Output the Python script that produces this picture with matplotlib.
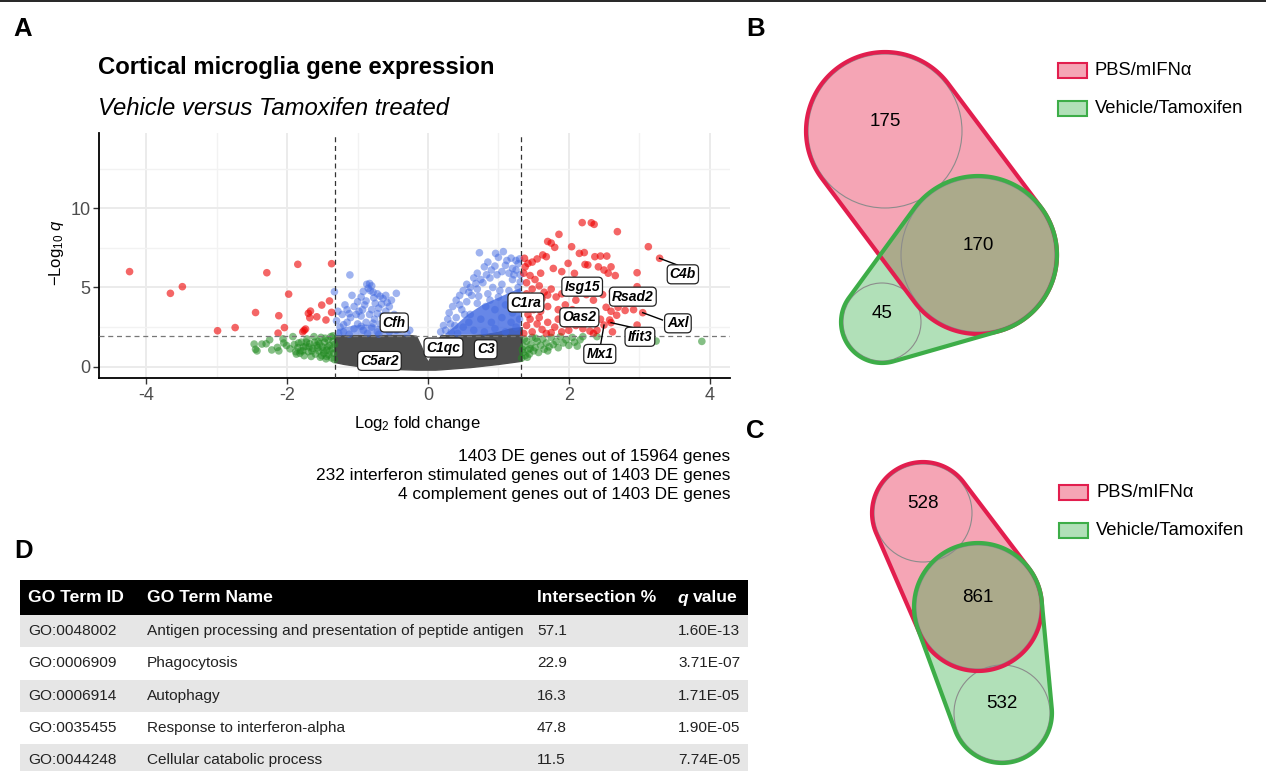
import numpy as np
import matplotlib
matplotlib.use("Agg")
import matplotlib.pyplot as plt
from matplotlib import font_manager
from matplotlib.patches import Polygon, Circle, Rectangle

W, H = 1266, 771

# ---------------- volcano data: (log2 fold change, -log10 q) ----------------
red_pts = [
    # down in tamoxifen
    (-4.24, 6.00), (-3.66, 4.63), (-3.49, 5.05), (-2.99, 2.27), (-2.74, 2.47),
    (-2.45, 3.42), (-2.29, 5.93), (-2.12, 3.22), (-2.04, 2.47), (-2.13, 2.12),
    (-1.98, 4.58), (-1.85, 6.46), (-1.78, 2.20), (-1.76, 2.30), (-1.74, 2.38),
    (-1.70, 3.37), (-1.67, 3.51), (-1.68, 3.09), (-1.58, 3.15), (-1.51, 3.89),
    (-1.45, 2.95), (-1.40, 4.15), (-1.37, 6.50), (-1.37, 3.43),
    # up, upper part
    (2.19, 9.09), (2.32, 9.08), (2.36, 8.98), (2.69, 8.52), (3.13, 7.57),
    (3.29, 6.84), (1.86, 8.35), (1.70, 7.90), (1.75, 7.80), (2.04, 7.57),
    (1.80, 7.53), (1.63, 7.05), (1.68, 6.94), (2.15, 7.15), (2.22, 7.20),
    (2.37, 6.94), (2.45, 6.98), (2.54, 6.98), (1.37, 6.84), (1.42, 6.52),
    (1.38, 6.30), (1.48, 6.60), (1.55, 6.80), (1.99, 6.52), (2.27, 6.42),
    (2.42, 6.30), (2.50, 6.10), (2.60, 6.30), (2.56, 5.90), (2.66, 5.75),
    (2.97, 5.93), (2.08, 5.89), (2.23, 6.45), (1.90, 6.00), (1.78, 6.20),
    (1.60, 5.90), (1.45, 5.75), (1.52, 5.50), (1.40, 5.30), (1.36, 5.90),
    # up, middle part
    (2.97, 5.05), (2.36, 5.30), (2.48, 4.55), (2.62, 4.75), (2.75, 4.20),
    (2.85, 4.00), (2.70, 3.75), (2.80, 3.55), (2.92, 3.60), (2.60, 3.50),
    (2.53, 3.75), (2.35, 4.20), (2.25, 4.55), (1.70, 4.52), (1.75, 4.90),
    (1.82, 4.40), (1.65, 4.70), (1.58, 5.10), (1.48, 4.90), (1.40, 4.60),
    (1.45, 4.20), (1.55, 4.00), (1.62, 4.30), (1.90, 4.60), (2.00, 5.20),
    (2.10, 4.20), (1.95, 3.90), (1.85, 3.60), (1.70, 3.80), (1.50, 3.60),
    (1.38, 3.90), (1.42, 3.30), (1.60, 3.50), (2.05, 3.60),
    # up, lower part
    (3.05, 3.41), (2.97, 2.63), (2.50, 2.63), (2.60, 2.78), (2.58, 2.95),
    (2.45, 3.00), (2.40, 2.30), (2.30, 2.25), (2.20, 2.40), (2.10, 2.60),
    (2.00, 2.30), (1.90, 2.20), (1.80, 2.50), (1.75, 2.15), (1.70, 2.80),
    (1.62, 2.35), (1.55, 2.70), (1.48, 2.20), (1.40, 2.60), (1.36, 2.10),
    (1.45, 3.00), (1.58, 3.10), (1.68, 2.10), (1.85, 3.00), (2.15, 2.90),
    (2.28, 3.20), (1.95, 2.70), (2.35, 2.10), (2.62, 2.20), (2.90, 2.10),
    (2.68, 3.25),
]

green_pts = [
    (-2.47, 1.43), (-2.45, 1.10), (-2.43, 1.00), (-2.36, 1.43), (-2.30, 1.45),
    (-2.25, 1.70), (-2.22, 1.06), (-2.14, 1.22), (-2.12, 1.00), (-2.06, 1.76),
    (-2.01, 1.34), (-1.96, 1.13), (-2.05, 1.50), (-1.92, 1.90), (-1.90, 1.40),
    (-1.88, 0.95), (-1.85, 1.20), (-1.82, 0.85), (-1.80, 1.55), (-1.78, 1.00),
    (-1.76, 0.70), (-1.74, 1.30), (-1.72, 1.75), (-1.70, 0.95), (-1.68, 1.45),
    (-1.66, 0.65), (-1.64, 1.15), (-1.62, 1.90), (-1.60, 0.80), (-1.58, 1.35),
    (-1.56, 1.60), (-1.55, 1.00), (-1.53, 0.60), (-1.52, 1.85), (-1.50, 1.25),
    (-1.48, 0.85), (-1.47, 1.55), (-1.45, 0.50), (-1.44, 1.05), (-1.42, 1.70),
    (-1.41, 0.75), (-1.40, 1.35), (-1.38, 1.90), (-1.37, 0.55), (-1.36, 1.15),
    (-1.35, 1.60), (-1.34, 0.85), (-1.33, 1.40), (-1.33, 0.45), (-1.35, 1.95),
    (-1.39, 1.00), (-1.43, 1.25), (-1.46, 1.80), (-1.51, 0.70), (-1.57, 1.20),
    (-1.61, 1.55), (-1.65, 1.00), (-1.69, 1.25), (-1.73, 1.55), (-1.77, 1.25),
    (-1.81, 1.00), (-1.84, 1.50), (-1.87, 0.80), (-1.54, 1.45), (-1.49, 1.05),
    (-1.44, 0.65),
    (1.33, 0.55), (1.35, 0.90), (1.36, 1.30), (1.38, 0.70), (1.40, 1.60),
    (1.42, 1.05), (1.44, 0.80), (1.46, 1.40), (1.48, 1.85), (1.50, 1.00),
    (1.52, 1.20), (1.55, 1.60), (1.57, 0.90), (1.60, 1.35), (1.63, 1.75),
    (1.65, 1.10), (1.68, 1.50), (1.72, 1.25), (1.75, 1.85), (1.78, 1.40),
    (1.82, 1.60), (1.85, 1.20), (1.88, 1.90), (1.92, 1.50), (1.96, 1.70),
    (2.00, 1.35), (2.05, 1.85), (2.08, 1.55), (2.12, 1.30), (2.16, 1.70),
    (2.20, 1.90), (1.34, 1.10), (1.37, 1.75), (1.41, 0.60), (1.45, 1.15),
    (1.53, 1.80), (1.70, 1.00), (2.40, 1.90), (3.10, 1.80), (3.24, 1.62),
    (3.89, 1.60),
]

blue_pts = [
    (-1.11, 5.79), (-1.33, 4.73), (-0.87, 5.20), (-0.83, 5.25), (-0.80, 5.10),
    (-0.85, 4.95), (-0.82, 4.80), (-0.78, 4.70), (-0.72, 4.60), (-0.68, 4.45),
    (-0.64, 4.30), (-0.60, 4.50), (-0.45, 4.63), (-0.52, 4.20), (-0.95, 4.40),
    (-1.00, 4.10), (-1.05, 3.80), (-1.15, 3.60), (-1.22, 3.30), (-1.28, 3.50),
    (-0.90, 3.90), (-0.75, 4.00), (-0.70, 3.70), (-0.60, 3.50), (-0.55, 3.80),
    (-0.48, 3.30), (-0.40, 3.00), (-0.35, 2.60), (-0.26, 2.30), (-0.30, 2.10),
    (-1.30, 2.90), (-1.25, 2.50), (-1.20, 2.20), (-1.15, 2.80), (-1.10, 3.10),
    (-1.05, 2.40), (-1.00, 2.70), (-0.95, 3.20), (-0.92, 2.30), (-0.88, 2.80),
    (-0.83, 3.30), (-0.80, 2.50), (-0.76, 3.00), (-0.72, 2.20), (-0.68, 2.70),
    (-0.65, 3.20), (-0.62, 2.40), (-0.58, 2.90), (-0.55, 2.20), (-0.50, 2.60),
    (-0.45, 2.30), (-0.42, 2.70), (-1.18, 3.90), (-1.08, 4.50), (-0.98, 3.50),
    (-1.27, 2.10), (-0.86, 2.10), (-0.70, 2.05), (-1.12, 2.05),
    (-0.92, 4.75), (-0.77, 4.35), (-0.88, 4.15), (-0.66, 3.95), (-0.58, 4.05),
    (-1.02, 3.30), (-0.93, 3.60), (-0.80, 3.60), (-0.72, 3.35), (-1.12, 3.35),
    (-1.20, 2.65), (-0.95, 2.55), (-0.78, 2.75), (-0.52, 3.05), (-0.62, 2.65),
    (0.73, 7.19), (0.96, 7.15), (1.07, 7.26), (1.00, 6.90), (1.18, 6.85),
    (1.25, 6.70), (1.30, 6.80), (1.28, 6.50), (0.85, 6.60), (0.80, 6.30),
    (0.90, 6.10), (1.10, 6.40), (1.20, 6.20), (0.70, 5.90), (0.65, 5.60),
    (0.75, 5.50), (1.05, 6.00), (0.55, 5.20), (0.50, 4.80), (0.60, 5.00),
    (0.45, 4.50), (0.40, 4.20), (0.35, 3.80), (0.30, 3.40), (0.28, 3.00),
    (0.22, 2.60), (0.18, 2.20), (0.25, 2.30), (0.32, 2.70), (0.40, 3.10),
    (0.48, 3.60), (0.55, 4.10), (0.62, 4.50), (0.70, 4.90), (0.78, 5.30),
    (0.88, 5.60), (0.98, 5.80), (1.15, 5.90), (1.25, 6.10), (1.31, 5.80),
    (0.92, 5.00), (1.05, 5.20), (1.20, 5.50), (0.85, 4.60), (1.00, 4.40),
    (1.15, 4.80), (1.28, 5.00), (0.70, 4.00), (0.82, 3.80), (0.95, 3.60),
    (1.10, 3.90), (1.25, 4.20), (0.60, 3.30), (0.75, 3.00), (0.90, 2.80),
    (1.05, 3.10), (1.20, 3.40), (1.30, 3.00), (0.50, 2.50), (0.65, 2.30),
    (0.80, 2.20), (0.95, 2.40), (1.10, 2.20), (1.25, 2.50), (0.42, 2.10),
    (1.18, 2.80), (0.58, 2.80), (1.30, 4.60), (1.30, 3.80),
    (0.68, 5.25), (0.83, 5.80), (0.95, 6.35), (1.12, 6.70), (1.22, 5.80),
    (0.58, 4.70), (0.72, 4.45), (0.88, 4.20), (1.02, 4.80), (1.18, 4.30),
    (0.45, 3.90), (0.52, 3.30), (0.38, 2.60), (0.33, 2.20), (1.31, 5.35),
]

# dense clouds read as envelopes (non significant genes and blue core)
gray_x = [-1.33, -1.20, -1.00, -0.80, -0.60, -0.40, -0.25, -0.17, -0.10, -0.04,
          0.00, 0.04, 0.10, 0.18, 0.30, 0.60, 0.80, 1.00, 1.15, 1.33]
gray_lo = [0.30, 0.18, 0.05, -0.05, -0.12, -0.15, -0.17, -0.18, -0.18, -0.18,
           -0.18, -0.18, -0.18, -0.16, -0.12, -0.02, 0.08, 0.18, 0.27, 0.38]
gray_hi = [2.00, 2.00, 2.00, 2.00, 2.00, 2.00, 2.00, 1.95, 1.30, 0.60,
           0.30, 0.70, 1.30, 2.00, 2.00, 2.00, 2.05, 2.20, 2.40, 2.50]
blue_core_x = [0.24, 0.35, 0.45, 0.55, 0.65, 0.75, 0.85, 0.95, 1.05, 1.15, 1.25, 1.31]
blue_core_hi = [2.10, 2.50, 2.90, 3.30, 3.60, 3.90, 4.10, 4.30, 4.50, 4.70, 4.90, 5.00]
blue_left_x = [-1.30, -1.10, -0.90, -0.70, -0.50, -0.36]
blue_left_hi = [2.40, 2.60, 2.70, 2.60, 2.40, 2.15]

fc_cut = 1.32
q_cut = 1.95

genes = ["Cfh", "C5ar2", "C1qc", "C3", "C1ra", "Isg15", "Rsad2", "Oas2",
         "Mx1", "Ifit3", "Axl", "C4b"]
gene_lx = [-0.48, -0.69, 0.22, 0.82, 1.39, 2.19, 2.91, 2.15, 2.44, 3.01, 3.55, 3.62]
gene_ly = [2.79, 0.37, 1.21, 1.10, 4.05, 5.05, 4.42, 3.12, 0.81, 1.89, 2.74, 5.83]
# connectors: gene point -> label edge
connectors = {
    "Mx1": ((2.50, 2.63), (2.45, 1.35)),
    "Ifit3": ((2.60, 2.78), (2.93, 2.45)),
    "Axl": ((3.05, 3.41), (3.33, 2.95)),
    "C4b": ((3.29, 6.84), (3.54, 6.42)),
}

caption = ["1403 DE genes out of 15964 genes",
           "232 interferon stimulated genes out of 1403 DE genes",
           "4 complement genes out of 1403 DE genes"]

# ---------------- venn data ----------------
set_names = ["PBS/mIFN\u03b1", "Vehicle/Tamoxifen"]
venn_b_counts = [175, 170, 45]
venn_c_counts = [528, 861, 532]

# ---------------- GO table ----------------
go_header = ["GO Term ID", "GO Term Name", "Intersection %", "q value"]
go_ids = ["GO:0048002", "GO:0006909", "GO:0006914", "GO:0035455", "GO:0044248"]
go_names = ["Antigen processing and presentation of peptide antigen",
            "Phagocytosis", "Autophagy", "Response to interferon-alpha",
            "Cellular catabolic process"]
go_inter = [57.1, 22.9, 16.3, 47.8, 11.5]
go_q = [1.60e-13, 3.71e-07, 1.71e-05, 1.90e-05, 7.74e-05]

# ---------------- style ----------------
plt.rcParams["font.family"] = ["Liberation Sans", "DejaVu Sans"]
plt.rcParams["mathtext.fontset"] = "custom"
plt.rcParams["mathtext.rm"] = "Liberation Sans"
plt.rcParams["mathtext.it"] = "Liberation Sans:italic"
plt.rcParams["mathtext.bf"] = "Liberation Sans:bold"
plt.rcParams["axes.unicode_minus"] = False

installed = {f.name for f in font_manager.fontManager.ttflist}
TABLE_FONT = "Liberation Sans Narrow" if "Liberation Sans Narrow" in installed else "Liberation Sans"

RED, GREEN, BLUE, GREY = "#EE0000", "#228B22", "#4169E1", "#4D4D4D"
PINK = (230 / 255, 30 / 255, 70 / 255)
LGREEN = (62 / 255, 178 / 255, 78 / 255)
PINK_EDGE = "#E21E4E"
GREEN_EDGE = "#3DAD48"

fig = plt.figure(figsize=(W / 100, H / 100), dpi=100)

# full-figure canvas in pixel units for panels B-D and annotations
cv = fig.add_axes([0, 0, 1, 1], zorder=0)
cv.set_xlim(0, W)
cv.set_ylim(H, 0)
cv.axis("off")

cv.plot([0, W], [0.8, 0.8], color="black", lw=1.2)
for letter, x, y in [("A", 13, 29), ("B", 746, 29), ("C", 746, 431), ("D", 14, 551)]:
    cv.text(x, y, letter, fontsize=18.5, fontweight="bold", ha="left", va="center")

# ---------------- panel A: volcano ----------------
ax = fig.add_axes([99.3 / W, 1 - 377.7 / H, (730 - 99.3) / W, (377.7 - 132.7) / H], zorder=1)
ax.set_facecolor("none")
ax.set_xlim(-4.67, 4.29)
ax.set_ylim(-0.69, 14.76)
ax.set_xticks([-4, -2, 0, 2, 4])
ax.set_xticks([-3, -1, 1, 3], minor=True)
ax.set_yticks([0, 5, 10])
ax.set_yticks([2.5, 7.5, 12.5], minor=True)
ax.grid(which="major", color="#EBEBEB", lw=1.4)
ax.grid(which="minor", color="#F2F2F2", lw=1.0)
ax.set_axisbelow(True)
for side in ("top", "right"):
    ax.spines[side].set_visible(False)
for side in ("left", "bottom"):
    ax.spines[side].set_color("black")
    ax.spines[side].set_linewidth(1.3)
ax.tick_params(which="major", length=4.5, width=1, color="#333333",
               labelcolor="#4D4D4D", labelsize=13, pad=2)
ax.tick_params(which="minor", length=0)

ax.fill_between(gray_x, gray_lo, gray_hi, color=GREY, lw=1, ec=GREY, zorder=2)
ax.fill_between(blue_core_x, [2.05] * len(blue_core_x), blue_core_hi,
                color=BLUE, alpha=0.8, lw=0, zorder=2.2)
ax.fill_between(blue_left_x, [2.05] * len(blue_left_x), blue_left_hi,
                color=BLUE, alpha=0.55, lw=0, zorder=2.2)

mk = dict(s=30, edgecolors="none", zorder=2.5)
g = np.array(green_pts)
ax.scatter(g[:, 0], g[:, 1], color=GREEN, alpha=0.55, **mk)
b = np.array(blue_pts)
ax.scatter(b[:, 0], b[:, 1], color=BLUE, alpha=0.5, **mk)
r = np.array(red_pts)
ax.scatter(r[:, 0], r[:, 1], color=RED, alpha=0.6, **mk)

ax.axvline(-fc_cut, color="#333333", lw=0.9, ls=(0, (4, 3)), zorder=4)
ax.axvline(fc_cut, color="#333333", lw=0.9, ls=(0, (4, 3)), zorder=4)
ax.axhline(q_cut, color="#777777", lw=0.9, ls=(0, (4, 3)), zorder=4)

for name, (p0, p1) in connectors.items():
    ax.plot([p0[0], p1[0]], [p0[1], p1[1]], color="black", lw=1.0, zorder=5)
for name, lx, ly in zip(genes, gene_lx, gene_ly):
    ax.text(lx, ly, name, fontsize=10, fontweight="bold", fontstyle="italic",
            ha="center", va="center", zorder=6,
            bbox=dict(boxstyle="round,pad=0.18,rounding_size=0.3", fc="white",
                      ec="#222222", lw=0.9))

ax.set_xlabel(r"$\mathrm{Log}_{2}$ fold change", fontsize=12, va="baseline")
ax.xaxis.set_label_coords(0.505, (377.7 - 428) / 245)
ax.set_ylabel(r"$-\mathrm{Log}_{10}\ q$", fontsize=12, va="center")
ax.yaxis.set_label_coords(-0.068, 0.51)

cv.text(98, 74, "Cortical microglia gene expression", fontsize=17.2,
        fontweight="bold", ha="left", va="baseline")
cv.text(98, 115, "Vehicle versus Tamoxifen treated", fontsize=17.2,
        fontstyle="italic", ha="left", va="baseline")
for i, line in enumerate(caption):
    cv.text(730, 461 + 19 * i, line, fontsize=12.4, ha="right", va="baseline")


# ---------------- panels B, C: venn ----------------
def circle_hull(circles, pad=0.0, n=360):
    t = np.linspace(0, 2 * np.pi, n, endpoint=False)
    pts = np.vstack([np.column_stack([cx + (rr + pad) * np.cos(t), cy + (rr + pad) * np.sin(t)])
                     for cx, cy, rr in circles])
    pts = pts[np.lexsort((pts[:, 1], pts[:, 0]))]

    def half(points):
        hull = []
        for p in points:
            while len(hull) >= 2:
                a, c = hull[-2], hull[-1]
                cross = (c[0] - a[0]) * (p[1] - a[1]) - (c[1] - a[1]) * (p[0] - a[0])
                if cross <= 0:
                    hull.pop()
                else:
                    break
            hull.append(p)
        return hull

    lower = half(pts)
    upper = half(pts[::-1])
    return np.array(lower[:-1] + upper[:-1])


def draw_venn(circles, counts, legend_x, legend_y):
    only_a, both, only_b = circles
    hull_a = circle_hull([only_a, both], pad=2)
    hull_b = circle_hull([both, only_b], pad=2)
    cv.add_patch(Polygon(hull_a, closed=True, fc=PINK, alpha=0.4, ec="none"))
    cv.add_patch(Polygon(hull_b, closed=True, fc=LGREEN, alpha=0.4, ec="none"))
    for cx, cy, rr in circles:
        cv.add_patch(Circle((cx, cy), rr, fill=False, ec="#8C8C8C", lw=0.8))
    cv.add_patch(Polygon(hull_a, closed=True, fill=False, ec=PINK_EDGE, lw=3.0))
    cv.add_patch(Polygon(hull_b, closed=True, fill=False, ec=GREEN_EDGE, lw=3.0))
    for (cx, cy, rr), n in zip(circles, counts):
        cv.text(cx, cy - 9, str(n), fontsize=13.5, ha="center", va="center")
    for k, (name, fc, ec) in enumerate(zip(set_names, (PINK, LGREEN), (PINK_EDGE, GREEN_EDGE))):
        y = legend_y + 38 * k
        cv.add_patch(Rectangle((legend_x, y - 7.5), 29, 15, fc=fc + (0.4,), ec=ec, lw=1.5))
        cv.text(legend_x + 37, y, name, fontsize=13.2, ha="left", va="center")


draw_venn([(885, 131, 77), (978, 255, 77), (882, 322, 39)], venn_b_counts, 1058, 70.5)
draw_venn([(923, 513, 49), (978, 607, 62), (1002, 713, 48)], venn_c_counts, 1059, 492.5)

# ---------------- panel D: GO table ----------------
renderer = fig.canvas.get_renderer()


def fit_size(s, target_px, **kw):
    t = cv.text(0, 0, s, fontsize=10, family=TABLE_FONT, **kw)
    w = t.get_window_extent(renderer=renderer).width
    t.remove()
    return 10 * target_px / w


body_fs = fit_size(go_names[0], 376)
head_fs = fit_size(go_header[1], 126, fontweight="bold")

col_x = [28, 147, 537, 678]
tab_x0, tab_w = 20, 728
cv.add_patch(Rectangle((tab_x0, 580), tab_w, 35, fc="black", ec="none"))
for cx, label in zip(col_x[:3], go_header[:3]):
    cv.text(cx, 598, label, color="white", fontsize=head_fs, fontweight="bold",
            family=TABLE_FONT, ha="left", va="center")
qt = cv.text(col_x[3], 598, "q", color="white", fontsize=head_fs, fontweight="bold",
             fontstyle="italic", family=TABLE_FONT, ha="left", va="center")
qw = qt.get_window_extent(renderer=renderer).width
cv.text(col_x[3] + qw + 4, 598, "value", color="white", fontsize=head_fs,
        fontweight="bold", family=TABLE_FONT, ha="left", va="center")

row_h = 32.3
for i in range(len(go_ids)):
    top = 615 + i * row_h
    if i % 2 == 0:
        cv.add_patch(Rectangle((tab_x0, top), tab_w, row_h, fc="#E6E6E6", ec="none"))
    yc = top + row_h / 2
    cells = [go_ids[i], go_names[i], f"{go_inter[i]:.1f}", f"{go_q[i]:.2E}"]
    for cx, val in zip(col_x, cells):
        cv.text(cx, yc, val, fontsize=body_fs, family=TABLE_FONT, color="#222222",
                ha="left", va="center")

fig.savefig("out.png", dpi=100)
